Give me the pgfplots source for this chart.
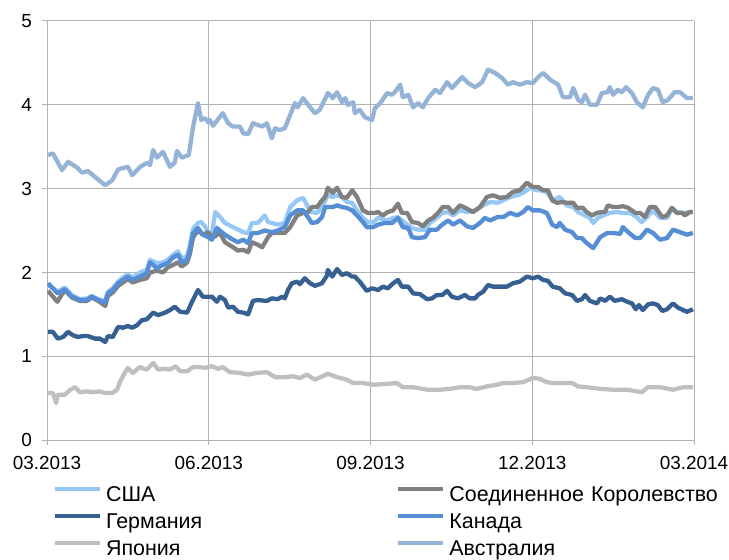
\documentclass[border=0pt]{standalone}
\usepackage{pgfplots}
\pgfplotsset{compat=1.18}
\usepackage{fontspec}
\setmainfont{Liberation Sans}
\definecolor{cUS}{RGB}{150,200,245}
\definecolor{cUK}{RGB}{128,128,128}
\definecolor{cDE}{RGB}{55,96,146}
\definecolor{cCA}{RGB}{85,142,213}
\definecolor{cJP}{RGB}{191,191,191}
\definecolor{cAU}{RGB}{149,179,215}
\definecolor{gridc}{RGB}{178,178,178}
\begin{document}
\begin{tikzpicture}
\begin{axis}[
  at={(0bp,0bp)}, anchor=south west, scale only axis,
  width=647bp, height=419bp,
  xmin=0, xmax=12, ymin=0, ymax=5,
  xtick={0,3,6,9,12},
  xticklabels={03.2013,06.2013,09.2013,12.2013,03.2014},
  ytick={0,1,2,3,4,5},
  grid=major,
  major grid style={draw=gridc, line width=1bp},
  axis lines*=left,
  axis line style={draw=gridc, line width=1bp, -},
  tick style={draw=gridc, line width=1bp},
  tick align=outside, major tick length=5bp,
  /pgf/number format/assume math mode=true,
  tick label style={font=\fontsize{19}{22}\selectfont, text=black},
  xticklabel style={inner sep=0pt, yshift=-11bp},
  yticklabel style={inner sep=0pt, xshift=-10bp},
  legend columns=2,
  legend cell align=left,
  legend style={at={(0.009,-0.111)}, anchor=north west, draw=none, fill=none,
    inner sep=0pt, outer sep=0pt, font=\fontsize{21.5}{25}\selectfont,
    row sep=8bp,
    nodes={inner sep=0pt, text width=290bp, align=left, text height=15bp, text depth=4bp},
    /tikz/every odd column/.append style={column sep=4bp},
    /tikz/every even column/.append style={column sep=0pt}},
  legend image code/.code={\draw[#1] (0bp,7bp) -- (45bp,7bp);},
  every axis plot/.append style={line width=4.3bp, line join=round, mark=none},
]
% USA
\addplot[cUS] coordinates {(0.02,1.85)(0.20,1.77)(0.33,1.82)(0.46,1.73)(0.61,1.68)(0.74,1.69)(0.83,1.72)(0.95,1.68)(1.08,1.66)(1.13,1.77)(1.22,1.81)(1.32,1.89)(1.41,1.94)(1.50,1.98)(1.59,1.94)(1.72,2.00)(1.85,2.03)(1.91,2.15)(2.04,2.11)(2.15,2.12)(2.24,2.15)(2.34,2.21)(2.43,2.25)(2.50,2.17)(2.60,2.19)(2.65,2.33)(2.71,2.52)(2.80,2.59)(2.86,2.60)(2.93,2.55)(2.99,2.47)(3.06,2.47)(3.12,2.72)(3.21,2.66)(3.30,2.59)(3.45,2.54)(3.58,2.50)(3.64,2.48)(3.73,2.47)(3.80,2.59)(3.91,2.59)(4.04,2.68)(4.10,2.60)(4.17,2.59)(4.28,2.57)(4.41,2.59)(4.51,2.78)(4.64,2.86)(4.75,2.89)(4.84,2.78)(4.91,2.72)(5.01,2.71)(5.10,2.78)(5.16,2.86)(5.21,2.92)(5.30,2.90)(5.38,2.92)(5.47,2.90)(5.56,2.84)(5.66,2.83)(5.75,2.74)(5.86,2.65)(5.95,2.60)(6.05,2.60)(6.14,2.65)(6.31,2.62)(6.42,2.65)(6.51,2.66)(6.64,2.59)(6.77,2.53)(6.88,2.51)(7.01,2.51)(7.10,2.59)(7.23,2.65)(7.33,2.71)(7.44,2.72)(7.53,2.68)(7.66,2.74)(7.79,2.72)(7.94,2.74)(8.09,2.80)(8.22,2.84)(8.35,2.83)(8.46,2.86)(8.59,2.90)(8.72,2.92)(8.83,2.95)(8.96,3.01)(9.09,2.98)(9.14,2.98)(9.27,2.96)(9.38,2.86)(9.51,2.90)(9.64,2.80)(9.76,2.78)(9.85,2.72)(9.98,2.68)(10.07,2.65)(10.13,2.59)(10.22,2.65)(10.31,2.68)(10.44,2.71)(10.57,2.72)(10.68,2.71)(10.81,2.71)(10.94,2.66)(11.03,2.60)(11.13,2.66)(11.24,2.74)(11.37,2.65)(11.50,2.65)(11.59,2.77)(11.68,2.72)(11.80,2.71)(11.92,2.72)(11.98,2.72)};
\addlegendentry{США}
% UK
\addplot[cUK] coordinates {(0.02,1.78)(0.19,1.65)(0.33,1.79)(0.46,1.70)(0.61,1.66)(0.74,1.66)(0.83,1.70)(0.95,1.66)(1.08,1.60)(1.13,1.72)(1.22,1.76)(1.32,1.84)(1.41,1.88)(1.50,1.92)(1.59,1.88)(1.72,1.91)(1.85,1.93)(1.91,2.00)(2.04,2.02)(2.15,2.00)(2.24,2.06)(2.34,2.09)(2.43,2.12)(2.50,2.07)(2.60,2.12)(2.65,2.22)(2.71,2.42)(2.80,2.50)(2.89,2.45)(2.99,2.48)(3.06,2.41)(3.21,2.47)(3.30,2.36)(3.45,2.30)(3.54,2.26)(3.64,2.27)(3.73,2.24)(3.80,2.36)(3.91,2.33)(3.99,2.30)(4.10,2.42)(4.17,2.47)(4.28,2.47)(4.41,2.47)(4.51,2.54)(4.64,2.68)(4.75,2.71)(4.84,2.72)(4.91,2.78)(5.01,2.78)(5.10,2.86)(5.16,2.90)(5.21,3.01)(5.30,2.95)(5.38,3.01)(5.47,2.90)(5.56,2.89)(5.66,2.98)(5.75,2.90)(5.86,2.74)(5.95,2.71)(6.08,2.71)(6.14,2.72)(6.23,2.68)(6.32,2.72)(6.42,2.74)(6.51,2.82)(6.58,2.71)(6.68,2.71)(6.77,2.60)(6.88,2.59)(6.97,2.55)(7.07,2.62)(7.16,2.65)(7.25,2.71)(7.34,2.78)(7.44,2.78)(7.53,2.71)(7.66,2.80)(7.79,2.76)(7.90,2.72)(8.03,2.78)(8.16,2.90)(8.27,2.92)(8.40,2.89)(8.53,2.90)(8.64,2.96)(8.77,2.98)(8.90,3.07)(9.01,3.02)(9.11,3.02)(9.20,2.98)(9.29,2.98)(9.37,2.86)(9.46,2.83)(9.55,2.84)(9.66,2.83)(9.76,2.83)(9.83,2.77)(9.94,2.77)(10.01,2.72)(10.11,2.68)(10.20,2.71)(10.29,2.72)(10.35,2.72)(10.40,2.80)(10.50,2.78)(10.59,2.78)(10.68,2.79)(10.78,2.77)(10.91,2.71)(11.00,2.71)(11.09,2.66)(11.18,2.78)(11.28,2.78)(11.41,2.66)(11.50,2.68)(11.59,2.77)(11.68,2.71)(11.78,2.71)(11.83,2.68)(11.92,2.72)(11.98,2.72)};
\addlegendentry{Соединенное Королевство}
% Germany
\addplot[cDE] coordinates {(0.02,1.29)(0.11,1.29)(0.20,1.21)(0.30,1.23)(0.39,1.29)(0.48,1.25)(0.57,1.23)(0.67,1.24)(0.76,1.24)(0.89,1.21)(0.98,1.21)(1.08,1.17)(1.13,1.24)(1.22,1.23)(1.32,1.35)(1.41,1.34)(1.50,1.36)(1.58,1.34)(1.67,1.37)(1.76,1.43)(1.85,1.44)(1.97,1.52)(2.06,1.49)(2.19,1.52)(2.28,1.55)(2.37,1.59)(2.47,1.53)(2.60,1.52)(2.69,1.65)(2.80,1.79)(2.89,1.71)(2.99,1.71)(3.06,1.71)(3.15,1.65)(3.21,1.71)(3.30,1.67)(3.36,1.58)(3.45,1.59)(3.54,1.53)(3.64,1.52)(3.73,1.50)(3.82,1.66)(3.91,1.67)(4.08,1.66)(4.17,1.69)(4.28,1.68)(4.36,1.71)(4.41,1.69)(4.47,1.79)(4.54,1.87)(4.64,1.89)(4.69,1.86)(4.78,1.93)(4.88,1.87)(4.97,1.84)(5.10,1.87)(5.19,1.96)(5.21,2.03)(5.29,1.95)(5.38,2.04)(5.47,1.97)(5.56,1.99)(5.66,1.95)(5.71,1.95)(5.80,1.89)(5.93,1.78)(6.03,1.81)(6.14,1.79)(6.23,1.83)(6.32,1.81)(6.42,1.87)(6.51,1.91)(6.58,1.83)(6.70,1.83)(6.79,1.75)(6.92,1.74)(7.05,1.68)(7.14,1.69)(7.23,1.73)(7.33,1.73)(7.42,1.78)(7.51,1.71)(7.62,1.69)(7.75,1.73)(7.84,1.69)(7.94,1.69)(7.99,1.73)(8.09,1.77)(8.18,1.85)(8.27,1.83)(8.40,1.83)(8.53,1.83)(8.64,1.87)(8.77,1.89)(8.90,1.95)(9.01,1.93)(9.11,1.95)(9.20,1.91)(9.29,1.90)(9.38,1.83)(9.51,1.81)(9.61,1.75)(9.74,1.73)(9.83,1.66)(9.92,1.68)(9.98,1.73)(10.07,1.66)(10.20,1.63)(10.26,1.69)(10.35,1.66)(10.44,1.71)(10.53,1.66)(10.66,1.68)(10.76,1.65)(10.85,1.63)(10.92,1.56)(10.98,1.61)(11.05,1.55)(11.15,1.62)(11.24,1.63)(11.33,1.61)(11.41,1.54)(11.50,1.56)(11.61,1.63)(11.70,1.58)(11.80,1.55)(11.87,1.53)(11.98,1.56)};
\addlegendentry{Германия}
% Canada
\addplot[cCA] coordinates {(0.02,1.87)(0.20,1.75)(0.33,1.80)(0.46,1.71)(0.61,1.67)(0.74,1.67)(0.83,1.71)(0.95,1.67)(1.08,1.64)(1.13,1.75)(1.22,1.79)(1.32,1.87)(1.41,1.91)(1.50,1.95)(1.59,1.91)(1.72,1.95)(1.85,1.99)(1.91,2.12)(2.04,2.05)(2.15,2.09)(2.24,2.11)(2.34,2.18)(2.43,2.21)(2.50,2.12)(2.60,2.15)(2.65,2.27)(2.71,2.47)(2.80,2.53)(2.89,2.45)(2.99,2.42)(3.06,2.39)(3.15,2.53)(3.30,2.45)(3.45,2.39)(3.54,2.36)(3.64,2.39)(3.73,2.35)(3.80,2.47)(3.91,2.47)(4.04,2.50)(4.17,2.48)(4.28,2.50)(4.41,2.54)(4.51,2.68)(4.64,2.74)(4.75,2.74)(4.84,2.66)(4.91,2.59)(5.01,2.60)(5.10,2.66)(5.16,2.78)(5.21,2.78)(5.30,2.78)(5.38,2.80)(5.47,2.78)(5.56,2.77)(5.66,2.74)(5.75,2.68)(5.86,2.60)(5.93,2.54)(6.05,2.54)(6.14,2.57)(6.27,2.59)(6.40,2.59)(6.51,2.65)(6.60,2.54)(6.70,2.53)(6.77,2.42)(6.88,2.41)(7.01,2.42)(7.10,2.51)(7.23,2.51)(7.33,2.57)(7.44,2.62)(7.53,2.57)(7.66,2.62)(7.79,2.55)(7.90,2.53)(8.03,2.59)(8.12,2.65)(8.22,2.62)(8.35,2.66)(8.46,2.66)(8.59,2.71)(8.72,2.68)(8.83,2.72)(8.92,2.78)(9.01,2.74)(9.14,2.74)(9.27,2.71)(9.37,2.57)(9.46,2.54)(9.51,2.59)(9.61,2.51)(9.74,2.48)(9.83,2.41)(9.92,2.41)(10.01,2.35)(10.13,2.29)(10.26,2.42)(10.39,2.47)(10.50,2.47)(10.63,2.46)(10.68,2.54)(10.78,2.48)(10.91,2.41)(11.00,2.41)(11.13,2.51)(11.24,2.47)(11.37,2.39)(11.50,2.41)(11.61,2.51)(11.74,2.48)(11.87,2.45)(11.98,2.47)};
\addlegendentry{Канада}
% Japan
\addplot[cJP] coordinates {(0.02,0.56)(0.11,0.56)(0.17,0.44)(0.20,0.54)(0.33,0.54)(0.43,0.60)(0.52,0.63)(0.61,0.57)(0.74,0.58)(0.85,0.57)(0.98,0.58)(1.08,0.56)(1.21,0.56)(1.30,0.60)(1.35,0.69)(1.45,0.81)(1.50,0.86)(1.59,0.80)(1.72,0.87)(1.85,0.84)(1.97,0.92)(2.06,0.84)(2.19,0.85)(2.28,0.84)(2.39,0.88)(2.47,0.82)(2.60,0.82)(2.71,0.87)(2.84,0.87)(2.93,0.86)(2.99,0.87)(3.06,0.88)(3.17,0.85)(3.26,0.87)(3.39,0.81)(3.58,0.80)(3.73,0.78)(3.89,0.80)(4.08,0.81)(4.23,0.75)(4.41,0.75)(4.56,0.76)(4.69,0.74)(4.82,0.78)(4.97,0.72)(5.21,0.79)(5.38,0.75)(5.56,0.72)(5.68,0.68)(5.86,0.68)(6.05,0.66)(6.31,0.67)(6.49,0.68)(6.60,0.63)(6.79,0.63)(7.05,0.60)(7.29,0.60)(7.47,0.61)(7.66,0.63)(7.84,0.63)(7.97,0.61)(8.16,0.64)(8.35,0.66)(8.46,0.68)(8.64,0.68)(8.83,0.69)(9.01,0.74)(9.14,0.73)(9.27,0.69)(9.38,0.68)(9.57,0.68)(9.74,0.68)(9.85,0.64)(10.01,0.63)(10.26,0.61)(10.50,0.60)(10.76,0.60)(11.03,0.57)(11.15,0.63)(11.37,0.63)(11.61,0.60)(11.80,0.63)(11.98,0.63)};
\addlegendentry{Япония}
% Australia
\addplot[cAU] coordinates {(0.02,3.40)(0.11,3.42)(0.28,3.22)(0.39,3.32)(0.56,3.25)(0.65,3.19)(0.76,3.21)(0.85,3.16)(1.08,3.04)(1.21,3.10)(1.32,3.23)(1.50,3.26)(1.58,3.16)(1.73,3.26)(1.86,3.31)(1.91,3.28)(1.97,3.46)(2.04,3.37)(2.15,3.44)(2.28,3.26)(2.37,3.31)(2.41,3.45)(2.50,3.37)(2.63,3.40)(2.71,3.74)(2.80,4.02)(2.86,3.82)(2.93,3.84)(2.99,3.79)(3.02,3.82)(3.08,3.75)(3.26,3.90)(3.36,3.78)(3.45,3.74)(3.58,3.74)(3.64,3.66)(3.73,3.65)(3.82,3.78)(3.99,3.74)(4.08,3.78)(4.17,3.60)(4.23,3.72)(4.32,3.70)(4.41,3.72)(4.51,3.88)(4.60,4.02)(4.65,3.97)(4.75,4.08)(4.88,3.97)(4.97,3.90)(5.06,3.94)(5.21,4.14)(5.30,4.08)(5.38,4.15)(5.47,4.03)(5.53,4.08)(5.58,4.00)(5.68,4.03)(5.71,3.90)(5.80,3.94)(5.90,3.85)(6.03,3.82)(6.08,3.96)(6.18,4.02)(6.31,4.14)(6.40,4.12)(6.45,4.15)(6.55,4.24)(6.60,4.09)(6.70,4.12)(6.79,3.97)(6.88,4.02)(6.97,3.97)(7.07,4.08)(7.20,4.18)(7.29,4.14)(7.42,4.27)(7.51,4.20)(7.70,4.33)(7.81,4.26)(7.94,4.21)(8.07,4.27)(8.18,4.42)(8.31,4.38)(8.44,4.32)(8.55,4.24)(8.64,4.27)(8.77,4.24)(8.90,4.27)(9.01,4.26)(9.11,4.33)(9.20,4.38)(9.33,4.30)(9.48,4.24)(9.57,4.09)(9.70,4.09)(9.76,4.20)(9.85,4.06)(9.92,4.03)(9.98,4.12)(10.07,4.00)(10.20,4.00)(10.29,4.14)(10.40,4.15)(10.44,4.21)(10.50,4.12)(10.59,4.18)(10.66,4.15)(10.74,4.21)(10.85,4.14)(10.94,4.03)(11.05,3.97)(11.15,4.12)(11.24,4.20)(11.33,4.18)(11.42,4.03)(11.52,4.06)(11.64,4.15)(11.74,4.15)(11.87,4.08)(11.98,4.08)};
\addlegendentry{Австралия}
\end{axis}
\pgfresetboundingbox
\useasboundingbox (-47bp,-120bp) rectangle (682bp,440bp);
\end{tikzpicture}
\end{document}
